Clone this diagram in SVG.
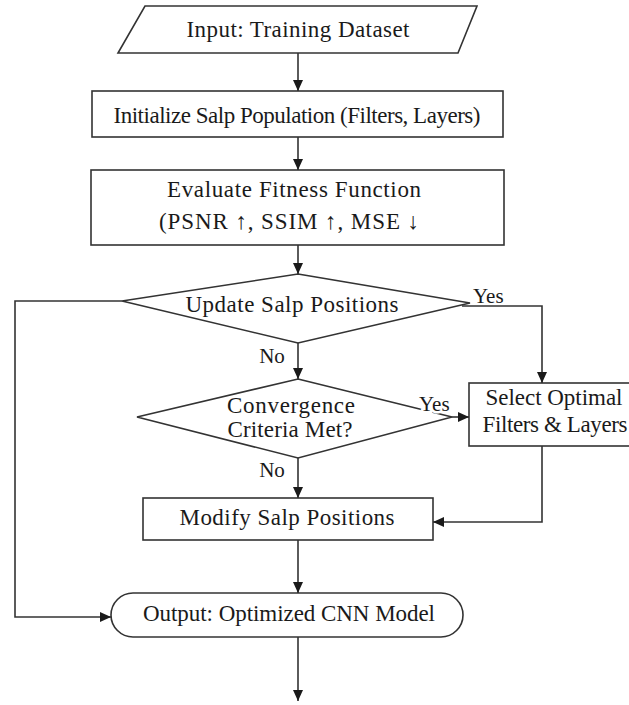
<svg xmlns="http://www.w3.org/2000/svg" width="629" height="705" viewBox="0 0 629 705">
<style>
.shape{fill:#fff;stroke:#333;stroke-width:1.6}
.t{font-family:"Liberation Serif","Times New Roman",serif;font-size:23px;fill:#1a1a1a;text-anchor:middle}
.lbl{font-family:"Liberation Serif","Times New Roman",serif;font-size:21px;fill:#1a1a1a}
.halo{stroke:#fff;stroke-width:5;paint-order:stroke}
.c{fill:none;stroke:#333;stroke-width:1.6}
</style>
<defs>
<marker id="ah" markerUnits="userSpaceOnUse" markerWidth="11" markerHeight="10" viewBox="0 0 11 10" refX="11" refY="5" orient="auto">
<path d="M0,0 L11,5 L0,10 z" fill="#1a1a1a"/>
</marker>
</defs>
<rect width="629" height="705" fill="#fff"/>
<g id="input">
<polygon class="shape" points="145,6 477,6 458,53 118,53"/>
<text class="t" x="298" y="37" textLength="223" lengthAdjust="spacing">Input: Training Dataset</text>
</g>
<g id="init">
<rect class="shape" x="92" y="91" width="411" height="46"/>
<text class="t" x="297" y="123" textLength="367" lengthAdjust="spacing">Initialize Salp Population (Filters, Layers)</text>
</g>
<g id="evaluate">
<rect class="shape" x="91" y="170" width="413" height="75"/>
<text class="t" x="294" y="197" textLength="254" lengthAdjust="spacing">Evaluate Fitness Function</text>
<text class="t" x="289" y="229" textLength="260" lengthAdjust="spacing">(PSNR ↑, SSIM ↑, MSE ↓</text>
</g>
<g id="update">
<polygon class="shape" points="298,274 470,303 298,343 122,301"/>
<text class="t" x="292" y="312" textLength="213" lengthAdjust="spacing">Update Salp Positions</text>
</g>
<g id="convergence">
<polygon class="shape" points="298,379 452,417 298,458 137,417"/>
<text class="t" x="291" y="413" textLength="128" lengthAdjust="spacing">Convergence</text>
<text class="t" x="290" y="437" textLength="125" lengthAdjust="spacing">Criteria Met?</text>
</g>
<g id="select">
<rect class="shape" x="469" y="383" width="164" height="63"/>
<text class="t" x="554" y="405" textLength="137" lengthAdjust="spacing">Select Optimal</text>
<text class="t" x="555" y="432" textLength="145" lengthAdjust="spacing">Filters &amp; Layers</text>
</g>
<g id="modify">
<rect class="shape" x="143" y="498" width="290" height="42"/>
<text class="t" x="287" y="525" textLength="215" lengthAdjust="spacing">Modify Salp Positions</text>
</g>
<g id="output">
<rect class="shape" x="111" y="593" width="352" height="44" rx="22" ry="22"/>
<text class="t" x="289" y="621" textLength="292" lengthAdjust="spacing">Output: Optimized CNN Model</text>
</g>
<g id="connectors">
<path class="c" d="M298,53 V91" marker-end="url(#ah)"/>
<path class="c" d="M298,137 V170" marker-end="url(#ah)"/>
<path class="c" d="M298,245 V274" marker-end="url(#ah)"/>
<path class="c" d="M298,343 V379" marker-end="url(#ah)"/>
<path class="c" d="M122,301 H15 V617 H111" marker-end="url(#ah)"/>
<path class="c" d="M462,306 H542 V383" marker-end="url(#ah)"/>
<path class="c" d="M452,417 H469" marker-end="url(#ah)"/>
<path class="c" d="M298,458 V498" marker-end="url(#ah)"/>
<path class="c" d="M542,446 V522 H433" marker-end="url(#ah)"/>
<path class="c" d="M298,540 V593" marker-end="url(#ah)"/>
<path class="c" d="M298,637 V701" marker-end="url(#ah)"/>
<text class="lbl" x="473" y="303">Yes</text>
<text class="lbl" x="272" y="363" text-anchor="middle">No</text>
<text class="lbl halo" x="419" y="411">Yes</text>
<text class="lbl" x="272" y="477" text-anchor="middle">No</text>
</g>
</svg>
